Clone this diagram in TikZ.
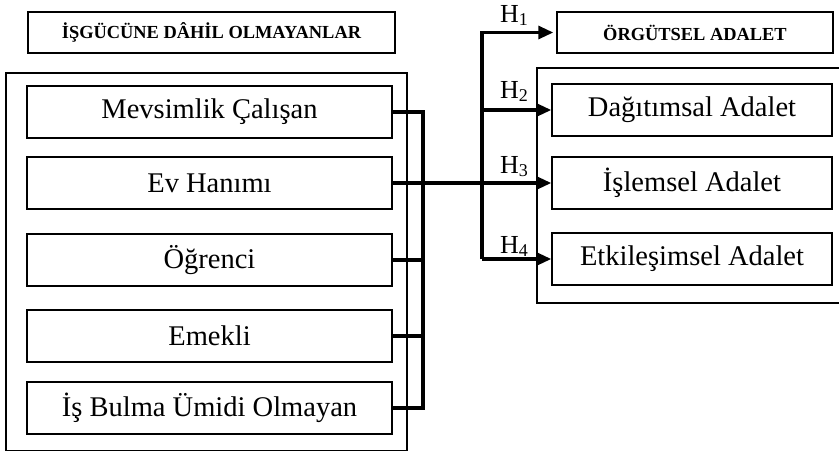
\documentclass[tikz,border=0pt]{standalone}
\usepackage{fontspec}
\setmainfont{Liberation Serif}
\usetikzlibrary{arrows.meta}
\begin{document}
\begin{tikzpicture}[x=1pt,y=-1pt,
  thinbox/.style={draw,line width=1.5pt,inner sep=0pt,align=center},
  itembox/.style={thinbox,minimum width=365pt,minimum height=52pt,font=\fontsize{28.5}{30}\selectfont},
  rightbox/.style={thinbox,minimum width=280pt,minimum height=52pt,font=\fontsize{28.5}{30}\selectfont},
  headbox/.style={thinbox,minimum height=41pt,font=\fontsize{18.4}{20}\selectfont\bfseries},
  conn/.style={line width=3.2pt},
  arr/.style={conn,-{Triangle[length=15pt,width=13pt]}},
  hlabel/.style={anchor=base west,inner sep=0pt,font=\fontsize{26}{28}\selectfont}
]
\useasboundingbox (0,0) rectangle (839,453);

% headers
\node[headbox,minimum width=367pt] (title) at (211.5,32.5) {İŞGÜCÜNE DÂHİL OLMAYANLAR};
\node[headbox,minimum width=276pt] (org) at (695,32.5) {ÖRGÜTSEL ADALET};

% left group
\node[thinbox,minimum width=401pt,minimum height=377.5pt] (leftgrp) at (206.5,261.75) {};
\node[itembox] (mev) at (209.5,112) {Mevsimlik Çalışan};
\node[itembox] (ev)  at (209.5,183) {Ev Hanımı};
\node[itembox] (ogr) at (209.5,260) {Öğrenci};
\node[itembox] (eme) at (209.5,336) {Emekli};
\node[itembox] (isb) at (209.5,408) {İş Bulma Ümidi Olmayan};

% right group (open on the right)
\coordinate (rgtop) at (537,68);
\coordinate (rgbot) at (537,303);
\draw[line width=1.5pt] (839,68) -- (rgtop) -- (rgbot) -- (839,303);
\node[rightbox] (dag) at (692,110) {Dağıtımsal Adalet};
\node[rightbox] (isl) at (692,183) {İşlemsel Adalet};
\node[rightbox] (etk) at (692,259) {Etkileşimsel Adalet};

% bus coordinates
\coordinate (bus) at (423,0);
\coordinate (hub) at (482,0);

% left connectors
\draw[conn] (mev.east) -| (bus |- isb.east) -- (isb.east);
\draw[conn] (ogr.east) -- (bus |- ogr.east);
\draw[conn] (eme.east) -- (bus |- eme.east);
\draw[arr] (ev.east) -- (isl.west);

% right connectors
\draw[arr] (hub |- etk.west) |- ([xshift=-3pt]org.west);
\draw[arr] (hub |- dag.west) -- (dag.west);
\draw[arr] (hub |- etk.west) -- (etk.west);

% labels
\node[hlabel] (h1) at (500,22) {H\textsubscript{\fontsize{18}{18}\selectfont 1}};
\node[hlabel] (h2) at (500,98) {H\textsubscript{\fontsize{18}{18}\selectfont 2}};
\node[hlabel] (h3) at (500,173) {H\textsubscript{\fontsize{18}{18}\selectfont 3}};
\node[hlabel] (h4) at (500,253) {H\textsubscript{\fontsize{18}{18}\selectfont 4}};
\end{tikzpicture}
\end{document}
